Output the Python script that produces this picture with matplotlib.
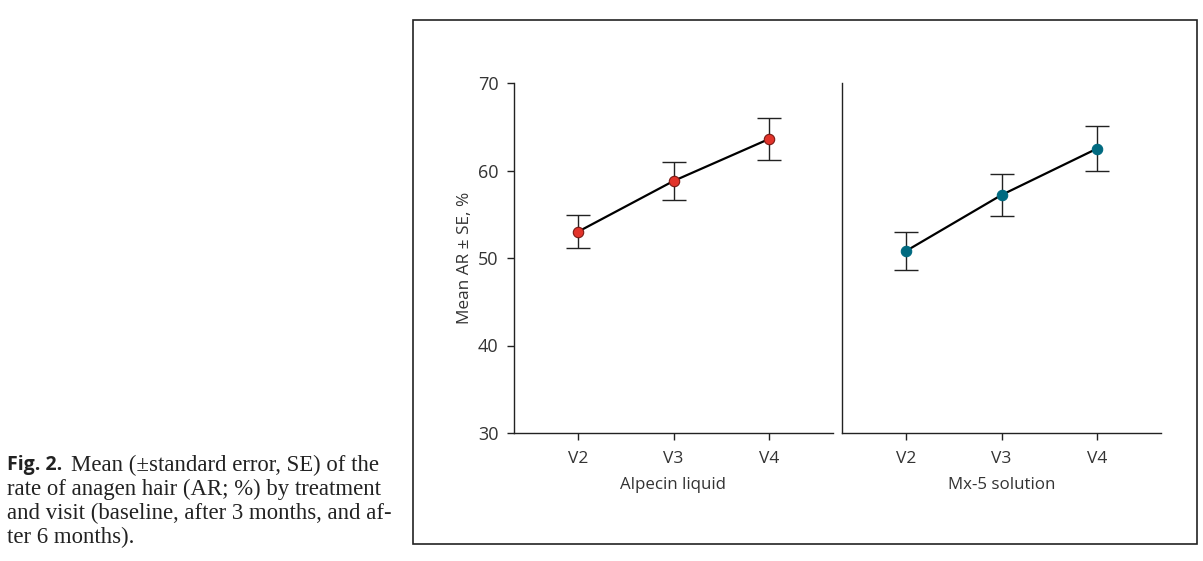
import matplotlib
matplotlib.use("Agg")
import matplotlib.pyplot as plt
from matplotlib.patches import Rectangle

visits = ["V2", "V3", "V4"]
treatments = ["Alpecin liquid", "Mx-5 solution"]
alpecin_mean = [53.0, 58.8, 63.6]
alpecin_se = [1.9, 2.15, 2.35]
mx5_mean = [50.8, 57.2, 62.5]
mx5_se = [2.2, 2.35, 2.55]
y_ticks = [30, 40, 50, 60, 70]
y_label = "Mean AR \u00b1 SE, %"
marker_colors = ["#e2332a", "#006a80"]
marker_edges = ["#7a1a14", "#006a80"]

plt.rcParams['font.family'] = ['Open Sans', 'DejaVu Sans']
txt_color = "#333333"

fig = plt.figure(figsize=(12.03, 5.61), dpi=100)
W, H = 1203, 561

def fx(px):
    return px / W

def fy(py):
    return 1 - py / H

ax1 = fig.add_axes([fx(514), fy(433), fx(833 - 514), (433 - 83) / H])
ax2 = fig.add_axes([fx(842), fy(433), fx(1161 - 842), (433 - 83) / H])

series = [(alpecin_mean, alpecin_se), (mx5_mean, mx5_se)]
xpos = list(range(len(visits)))
for i, (ax, (m, se)) in enumerate(zip([ax1, ax2], series)):
    ax.errorbar(xpos, m, yerr=se, fmt='none', ecolor="#222222",
                elinewidth=1.0, capsize=8.5, capthick=1.0, zorder=2)
    ax.plot(xpos, m, color="black", lw=1.6, zorder=3)
    ax.plot(xpos, m, 'o', ms=7.5, mfc=marker_colors[i], mec=marker_edges[i],
            mew=0.8, zorder=4)
    ax.set_xlim(-0.67, 2.67)
    ax.set_ylim(30, 70)
    ax.set_xticks(xpos)
    ax.set_xticklabels(visits, fontsize=12.5, color=txt_color)
    ax.set_xlabel(treatments[i], fontsize=12.2, color=txt_color, labelpad=7)
    for s in ["top", "right"]:
        ax.spines[s].set_visible(False)
    for s in ["left", "bottom"]:
        ax.spines[s].set_linewidth(1.0)
        ax.spines[s].set_color("#222222")
    ax.tick_params(axis='x', length=5, width=1.0, color="#222222", pad=8)
    ax.tick_params(axis='y', length=5, width=1.0, color="#222222", pad=6)
    ax.patch.set_alpha(0)

ax1.set_yticks(y_ticks)
ax1.set_yticklabels([str(t) for t in y_ticks], fontsize=13, color=txt_color)
ax1.set_ylabel(y_label, fontsize=12.4, color=txt_color, labelpad=4)
ax2.set_yticks([])

# outer frame
fig.add_artist(Rectangle((fx(413), fy(544)), fx(1197 - 413), (544 - 20) / H,
                         transform=fig.transFigure, fill=False,
                         edgecolor="#222222", lw=1.2))

# caption
serif = ['Liberation Serif', 'DejaVu Serif']
cap_fs = 16.4
fig.text(fx(7), fy(465), "Fig. 2.", fontsize=14, fontweight='bold',
         family=['Open Sans', 'DejaVu Sans'], color="#222222", va='center')
fig.text(fx(71), fy(465), "Mean (\u00b1standard error, SE) of the",
         fontsize=cap_fs, family=serif, color="#222222", va='center')
lines = ["rate of anagen hair (AR; %) by treatment",
         "and visit (baseline, after 3 months, and af-",
         "ter 6 months)."]
for k, ln in enumerate(lines):
    fig.text(fx(7), fy(489 + 24 * k), ln, fontsize=cap_fs, family=serif,
             color="#222222", va='center')

fig.savefig("out.png", dpi=100)
